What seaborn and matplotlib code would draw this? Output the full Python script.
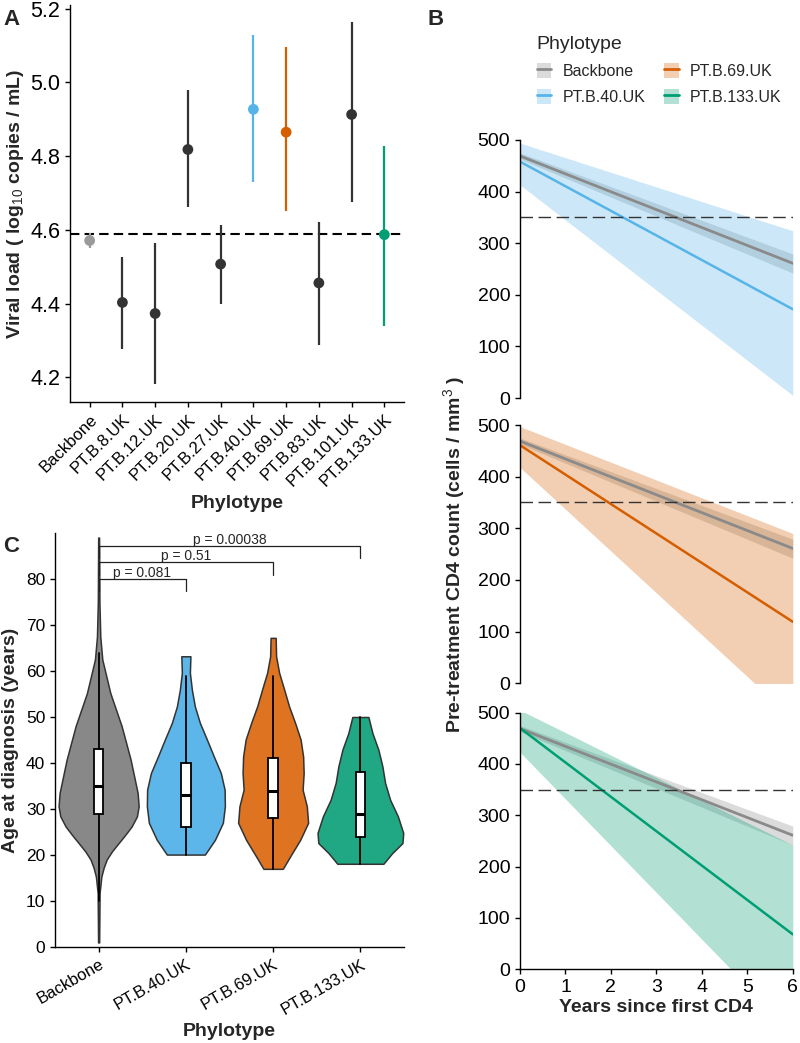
import numpy as np
import pandas as pd
import matplotlib
matplotlib.use("Agg")
import matplotlib.pyplot as plt
from matplotlib.patches import Patch
from matplotlib.lines import Line2D
import seaborn as sns

# panel A - viral load per phylotype (estimate + 95% CI)
phylotypes_a = ['Backbone', 'PT.B.8.UK', 'PT.B.12.UK', 'PT.B.20.UK', 'PT.B.27.UK',
                'PT.B.40.UK', 'PT.B.69.UK', 'PT.B.83.UK', 'PT.B.101.UK', 'PT.B.133.UK']
vl_est = [4.571, 4.403, 4.373, 4.818, 4.507, 4.927, 4.865, 4.456, 4.913, 4.587]
vl_low = [4.550, 4.278, 4.181, 4.663, 4.399, 4.731, 4.651, 4.287, 4.676, 4.339]
vl_high = [4.591, 4.527, 4.564, 4.979, 4.612, 5.128, 5.095, 4.622, 5.163, 4.827]
vl_ref = 4.588

# panel B - CD4 decline, fitted line and ribbon at start / end of follow-up
years = [0, 6]
bb_fit = [469, 261]
bb_low = [463, 242]
bb_high = [475, 279]
pt40_fit = [458, 172]
pt40_low = [413, 5]
pt40_high = [494, 324]
pt69_fit = [461, 119]
pt69_low = [418, -68]
pt69_high = [497, 290]
pt133_fit = [470, 68]
pt133_low = [423, -124]
pt133_high = [505, 242]
cd4_threshold = 350

# panel C - age at diagnosis, violin outlines (age, half width) and box stats
groups_c = ['Backbone', 'PT.B.40.UK', 'PT.B.69.UK', 'PT.B.133.UK']
bb_age = [1, 11.7, 15.3, 17.2, 19, 20.8, 22.6, 24.4, 26.2, 28.4, 30.6, 33.5, 40.7, 48, 55.2, 62.5, 67.5, 75, 89]
bb_half = [0.006, 0.011, 0.031, 0.057, 0.092, 0.153, 0.229, 0.306, 0.378, 0.439, 0.459, 0.447,
           0.367, 0.264, 0.134, 0.042, 0.019, 0.009, 0.005]
pt40_age = [20.1, 23.3, 27, 30.6, 34.2, 37.8, 41.4, 45.1, 48.7, 52.3, 55.9, 59.6, 63.2]
pt40_half = [0.218, 0.333, 0.424, 0.447, 0.444, 0.401, 0.321, 0.241, 0.161, 0.103, 0.069, 0.046, 0.052]
pt69_age = [17, 19.7, 23.3, 27, 30.6, 34.2, 37.8, 41.4, 45.1, 48.7, 52.3, 56, 59.6, 63.2, 67.2]
pt69_half = [0.111, 0.195, 0.310, 0.401, 0.386, 0.338, 0.350, 0.344, 0.315, 0.252, 0.183, 0.126,
             0.069, 0.034, 0.029]
pt133_age = [18.1, 20.4, 22.6, 24.8, 28.4, 32, 35.7, 39.3, 42.9, 46.5, 50]
pt133_half = [0.264, 0.364, 0.482, 0.491, 0.430, 0.341, 0.283, 0.252, 0.206, 0.138, 0.092]
age_q1 = [29, 26.2, 28, 24]
age_med = [35, 33, 34, 29]
age_q3 = [43, 40, 41, 38]
age_whislo = [10, 20, 17, 18]
age_whishi = [64, 59, 59, 50]
bracket_to = [1, 2, 3]
bracket_y = [80, 83.6, 87.2]
bracket_p = ['p = 0.081', 'p = 0.51', 'p = 0.00038']

line_cols = {'Backbone': '#8A8A8A', 'PT.B.40.UK': '#56B4E9',
             'PT.B.69.UK': '#D55E00', 'PT.B.133.UK': '#009E73'}
violin_cols = ['#888888', '#5DB6E9', '#DE7321', '#1FA883']

sns.set_theme(style="ticks")
plt.rcParams['font.family'] = ['Liberation Sans', 'DejaVu Sans']
plt.rcParams.update({
    'mathtext.fontset': 'custom',
    'mathtext.rm': 'Liberation Sans',
    'mathtext.it': 'Liberation Sans:italic',
    'mathtext.bf': 'Liberation Sans:bold',
    'axes.linewidth': 1.0,
    'axes.edgecolor': 'black',
    'xtick.color': 'black',
    'ytick.color': 'black',
    'xtick.major.width': 1.0,
    'ytick.major.width': 1.0,
    'xtick.major.size': 3.5,
    'ytick.major.size': 3.5,
})

fig = plt.figure(figsize=(8, 10.43), dpi=100)

# ---------------- A
axA = fig.add_axes([0.0875, 0.6146, 0.4175, 0.3806])
xa = np.arange(len(phylotypes_a))
cols_a = ['#9A9A9A'] + ['#333333'] * 4 + ['#56B4E9', '#D55E00', '#333333', '#333333', '#009E73']
axA.vlines(xa, vl_low, vl_high, colors=cols_a, lw=1.6, zorder=2)
dfA = pd.DataFrame({'x': xa, 'est': vl_est, 'phylotype': phylotypes_a})
sns.scatterplot(data=dfA, x='x', y='est', hue='phylotype', palette=dict(zip(phylotypes_a, cols_a)),
                s=60, edgecolor='none', legend=False, ax=axA, zorder=3)
axA.axhline(vl_ref, color='black', lw=1.5, dashes=(4.5, 2.5), zorder=1)
axA.set_xlim(-0.6, 9.6)
axA.set_ylim(4.133, 5.21)
axA.set_yticks([4.2, 4.4, 4.6, 4.8, 5.0, 5.2])
axA.set_yticklabels(['4.2', '4.4', '4.6', '4.8', '5.0', '5.2'], fontsize=15.5)
axA.set_xticks(xa)
axA.set_xticklabels(phylotypes_a, rotation=45, ha='right', rotation_mode='anchor', fontsize=12)
axA.set_xlabel('Phylotype', fontsize=14, fontweight='bold', labelpad=4)
axA.set_ylabel('Viral load ( log$_{10}$ copies / mL)', fontsize=14, fontweight='bold', labelpad=3)
sns.despine(ax=axA)

# ---------------- B
b_boxes = [[0.65, 0.6184, 0.341, 0.2474], [0.65, 0.3449, 0.341, 0.2476], [0.65, 0.0707, 0.341, 0.246]]
b_series = [('PT.B.40.UK', pt40_fit, pt40_low, pt40_high),
            ('PT.B.69.UK', pt69_fit, pt69_low, pt69_high),
            ('PT.B.133.UK', pt133_fit, pt133_low, pt133_high)]
for i, (name, fit, lo, hi) in enumerate(b_series):
    ax = fig.add_axes(b_boxes[i])
    c = line_cols[name]
    ax.fill_between(years, bb_low, bb_high, color=line_cols['Backbone'], alpha=0.3, lw=0)
    sns.lineplot(x=years, y=bb_fit, color=line_cols['Backbone'], lw=2.0, ax=ax)
    ax.fill_between(years, lo, hi, color=c, alpha=0.3, lw=0)
    sns.lineplot(x=years, y=fit, color=c, lw=1.8, ax=ax)
    ax.axhline(cd4_threshold, color='#333333', lw=1.0, dashes=(9, 4))
    ax.set_xlim(0, 6)
    ax.set_ylim(0, 500)
    ax.set_yticks([0, 100, 200, 300, 400, 500])
    ax.set_yticklabels(['0', '100', '200', '300', '400', '500'], fontsize=14)
    if i < 2:
        sns.despine(ax=ax, bottom=True)
        ax.set_xticks([])
    else:
        sns.despine(ax=ax)
        ax.set_xticks(range(7))
        ax.set_xticklabels([str(v) for v in range(7)], fontsize=14)
        ax.set_xlabel('Years since first CD4', fontsize=14, fontweight='bold', labelpad=2)

fig.text(0.568, 0.468, 'Pre-treatment CD4 count (cells / mm$^{3}$ )', rotation=90,
         fontsize=14, fontweight='bold', ha='center', va='center')

handles = [(Patch(facecolor=line_cols[g], alpha=0.3, lw=0), Line2D([], [], color=line_cols[g], lw=2))
           for g in groups_c]
leg = fig.legend(handles, groups_c, loc='upper left', bbox_to_anchor=(0.653, 0.979), ncol=2,
                 frameon=False, title='Phylotype', title_fontsize=14, fontsize=11.5,
                 handlelength=0.9, handleheight=1.1, handletextpad=0.7, columnspacing=1.2,
                 labelspacing=0.6, alignment='left')

# ---------------- C
axC = fig.add_axes([0.06875, 0.092, 0.43625, 0.397])
violins = [(bb_age, bb_half), (pt40_age, pt40_half), (pt69_age, pt69_half), (pt133_age, pt133_half)]
for i, (ages, half) in enumerate(violins):
    half = np.array(half)
    axC.fill_betweenx(ages, i - half, i + half, facecolor=violin_cols[i], edgecolor='#333333', lw=1.1, zorder=2)
stats = [{'med': age_med[i], 'q1': age_q1[i], 'q3': age_q3[i], 'whislo': age_whislo[i],
          'whishi': age_whishi[i], 'fliers': []} for i in range(4)]
axC.bxp(stats, positions=range(4), widths=0.11, patch_artist=True, showcaps=False, showfliers=False,
        boxprops=dict(facecolor='white', edgecolor='black', lw=1.3),
        medianprops=dict(color='black', lw=2.2),
        whiskerprops=dict(color='black', lw=1.3), zorder=3)
for j, y, p in zip(bracket_to, bracket_y, bracket_p):
    axC.plot([0, 0, j, j], [y - 2.7, y, y, y - 2.7], color='#222222', lw=0.9, clip_on=False, zorder=4)
    axC.text(j / 2, y + 0.5, p, ha='center', va='baseline', fontsize=10)
axC.set_xlim(-0.5, 3.5)
axC.set_ylim(0, 90)
axC.set_yticks(range(0, 90, 10))
axC.set_yticklabels([str(v) for v in range(0, 90, 10)], fontsize=12.5)
axC.set_xticks(range(4))
axC.set_xticklabels(groups_c, rotation=30, ha='right', rotation_mode='anchor', fontsize=12)
axC.set_xlabel('Phylotype', fontsize=14, fontweight='bold', labelpad=4)
axC.set_ylabel('Age at diagnosis (years)', fontsize=14, fontweight='bold', labelpad=5)
sns.despine(ax=axC)

fig.text(0.004, 0.976, 'A', fontsize=16, fontweight='bold', va='baseline')
fig.text(0.534, 0.976, 'B', fontsize=16, fontweight='bold', va='baseline')
fig.text(0.004, 0.4708, 'C', fontsize=16, fontweight='bold', va='baseline')

fig.savefig('out.png', dpi=100)
